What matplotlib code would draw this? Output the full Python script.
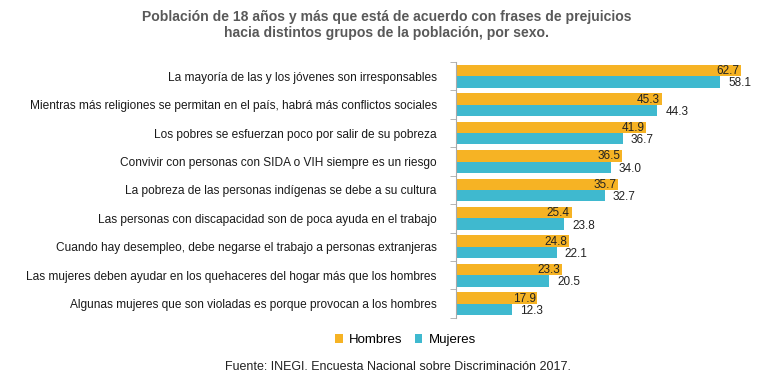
import matplotlib
matplotlib.use("Agg")
import matplotlib.pyplot as plt
import numpy as np

categories = [
    "La mayoría de las y los jóvenes son irresponsables",
    "Mientras más religiones se permitan en el país, habrá más conflictos sociales",
    "Los pobres se esfuerzan poco por salir de su pobreza",
    "Convivir con personas con SIDA o VIH siempre es un riesgo",
    "La pobreza de las personas indígenas se debe a su cultura",
    "Las personas con discapacidad son de poca ayuda en el trabajo",
    "Cuando hay desempleo, debe negarse el trabajo a personas extranjeras",
    "Las mujeres deben ayudar en los quehaceres del hogar más que los hombres",
    "Algunas mujeres que son violadas es porque provocan a los hombres",
]
hombres = [62.7, 45.3, 41.9, 36.5, 35.7, 25.4, 24.8, 23.3, 17.9]
mujeres = [58.1, 44.3, 36.7, 34.0, 32.7, 23.8, 22.1, 20.5, 12.3]

c_h = "#F6B324"
c_m = "#3FB9CF"

plt.rcParams['font.family'] = ['Liberation Sans', 'DejaVu Sans']
fig = plt.figure(figsize=(7.68, 3.83), dpi=100)
ax = fig.add_axes([0.594, 0.17, 0.386, 0.668])

n = len(categories)
y = np.arange(n)
h = 0.4
ax.barh(y - h/2, hombres, height=h, color=c_h, label="Hombres")
ax.barh(y + h/2, mujeres, height=h, color=c_m, label="Mujeres")

for i in range(n):
    ax.text(hombres[i] - 0.4, y[i] - h/2 + 0.02, f"{hombres[i]:.1f}", ha='right', va='center',
            fontsize=8.5, color='#222222')
    ax.text(mujeres[i] + 1.8, y[i] + h/2 + 0.05, f"{mujeres[i]:.1f}", ha='left', va='center',
            fontsize=8.5, color='#222222')

ax.set_ylim(n - 0.5, -0.5)
ax.set_xlim(0, 65.3)
ax.set_yticks(y)
ax.set_yticklabels(categories, fontsize=8.6, color='#1a1a1a')
ax.set_yticks(np.arange(-0.5, n, 1), minor=True)
ax.tick_params(axis='y', which='major', length=0, pad=14)
ax.tick_params(axis='y', which='minor', length=4, color='#aaaaaa', direction='out')
ax.set_xticks([])
for s in ['top', 'right', 'bottom']:
    ax.spines[s].set_visible(False)
ax.spines['left'].set_color('#aaaaaa')

fig.text(0.503, 0.935, "Población de 18 años y más que está de acuerdo con frases de prejuicios\nhacia distintos grupos de la población, por sexo.",
         ha='center', va='center', fontsize=10.1, fontweight='bold', color='#595959', linespacing=1.15)

fig.legend(loc='center', bbox_to_anchor=(0.528, 0.112), ncol=2, frameon=False, fontsize=9.5,
           handlelength=0.6, handleheight=0.6, handletextpad=0.5, columnspacing=0.9)

fig.text(0.518, 0.043, "Fuente: INEGI. Encuesta Nacional sobre Discriminación 2017.",
         ha='center', va='center', fontsize=9, color='#222222')

fig.savefig("out.png", dpi=100)
